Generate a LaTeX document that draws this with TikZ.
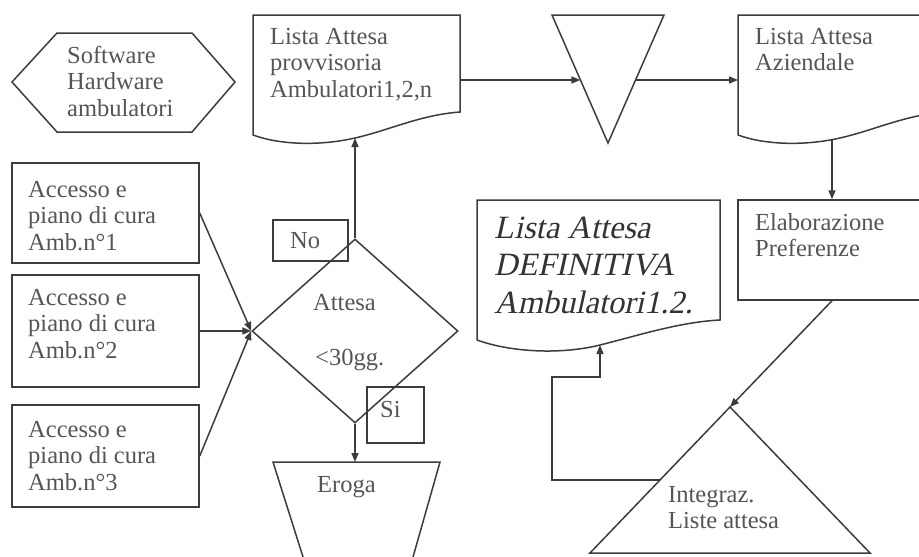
\documentclass[tikz,border=0pt]{standalone}
\usepackage{fontspec}
\setmainfont{Liberation Serif}
\newfontfamily\slantserif[FakeSlant=0.22]{Liberation Serif}
\usetikzlibrary{arrows.meta,shapes.geometric,calc}
\definecolor{inkline}{HTML}{3C3C3C}
\definecolor{inktext}{HTML}{555555}
\definecolor{inkbold}{HTML}{333333}
% left-aligned stack of lines whose baseline is the first line
\newcommand{\stack}[1]{\begin{tabular}[t]{@{}l@{}}#1\end{tabular}}

\begin{document}
\begin{tikzpicture}[x=1pt,y=-1pt,
  line/.style={draw=inkline, line width=1.5pt, line join=miter},
  flow/.style={line, -{Triangle[length=9pt,width=7pt]}},
  box/.style={rectangle, draw=inkline, line width=1.5pt, inner sep=0pt},
  lbl/.style={inner sep=0pt, anchor=base west, text=inktext,
              font=\fontsize{24.5}{26.5}\selectfont},
  biglbl/.style={inner sep=0pt, anchor=base west, text=inkbold,
              font=\slantserif\fontsize{32.5}{37.5}\selectfont},
]
\useasboundingbox (0,0) rectangle (919,557);
\clip (0,0) rectangle (919,557);

% ---- hexagon: resources
\draw[line] (12,82) -- (57,33) -- (192,33) -- (235,82) -- (192,132) -- (57,132) -- cycle;
\node[lbl] (hw) at (67,63) {\stack{Software\\Hardware\\ambulatori}};

% ---- access boxes
\node[box, minimum width=187pt, minimum height=100pt] (acc1) at (105.5,213) {};
\node[box, minimum width=187pt, minimum height=112pt] (acc2) at (105.5,331) {};
\node[box, minimum width=187pt, minimum height=102pt] (acc3) at (105.5,456) {};
\node[lbl] (t1) at (28,197) {\stack{Accesso e\\piano di cura\\Amb.n°1}};
\node[lbl] (t2) at (28,305) {\stack{Accesso e\\piano di cura\\Amb.n°2}};
\node[lbl] (t3) at (28,437) {\stack{Accesso e\\piano di cura\\Amb.n°3}};

% ---- decision
\node[diamond, draw=inkline, line width=1.5pt, inner sep=0pt,
      minimum width=206pt, minimum height=184pt] (dec) at (355,331) {};
\node[lbl] (att) at (313,310) {Attesa};
\node[lbl] (lim) at (315,365) {<30gg.};
\node[box, minimum width=75pt, minimum height=41pt] (no) at (310.5,240.5) {};
\node[lbl] (notx) at (290,248) {No};
\node[box, minimum width=57pt, minimum height=56pt] (si) at (395.5,415) {};
\node[lbl] (sitx) at (380,417) {Si};

% ---- provisional list (document)
\draw[line] (253,15) -- (460,15) -- (460,112)
  .. controls (420,115) and (390,130) .. (355,138)
  .. controls (320,146) and (280,145) .. (253,135) -- cycle;
\coordinate (d1in) at (355,138);
\coordinate (d1out) at (460,80);
\node[lbl] (d1tx) at (270,44) {\stack{Lista Attesa\\provvisoria\\Ambulatori1,2,n}};

% ---- merge (inverted triangle)
\draw[line] (552,15) -- (664,15) -- (608,143) -- cycle;
\coordinate (mL) at (580.4,80);
\coordinate (mR) at (635.6,80);

% ---- company list (document)
\draw[line] (738,15) -- (945,15) -- (945,112)
  .. controls (905,115) and (875,130) .. (840,138)
  .. controls (805,146) and (765,145) .. (738,135) -- cycle;
\coordinate (d2in) at (738,80);
\coordinate (d2out) at (832,139.5);
\node[lbl] (d2tx) at (755,44) {\stack{Lista Attesa\\Aziendale}};

% ---- preferences processing
\node[box, minimum width=188pt, minimum height=100pt] (elab) at (832,250) {};
\node[lbl] (eltx) at (755,230) {\stack{Elaborazione\\Preferenze}};

% ---- definitive list (document)
\draw[line] (477,200) -- (720,200) -- (720,320)
  .. controls (680,322) and (640,335) .. (600,345)
  .. controls (560,355) and (510,352) .. (477,340) -- cycle;
\coordinate (d3in) at (600,345);
\node[biglbl] (d3tx) at (494,238) {\stack{Lista Attesa\\DEFINITIVA\\Ambulatori1.2.}};

% ---- delivery (trapezoid)
\draw[line] (310.3,580) -- (273,462) -- (440,462) -- (406.5,580);
\coordinate (erTop) at (355,462);
\node[lbl] (ertx) at (317,492) {Eroga};

% ---- integration (triangle)
\draw[line] (730,407) -- (870,553) -- (590,553) -- cycle;
\coordinate (intApex) at (730,407);
\coordinate (intSide) at (660,480);
\node[lbl] (intx) at (668,502) {\stack{Integraz.\\Liste attesa}};

% ---- connectors
\draw[flow] (acc1.east) -- (dec.west);
\draw[flow] (acc2.east) -- (dec.west);
\draw[flow] (acc3.east) -- (dec.west);
\draw[flow] (dec.north) -- (d1in);
\draw[flow] (dec.south) -- (erTop);
\draw[flow] (d1out) -- (mL);
\draw[flow] (mR) -- (d2in);
\draw[flow] (d2out) -- (elab.north);
\draw[flow] (elab.south) -- (intApex);
\draw[flow] (intSide) -- (552,480) -- (552,377) -- (600,377) -- (d3in);
\end{tikzpicture}
\end{document}
